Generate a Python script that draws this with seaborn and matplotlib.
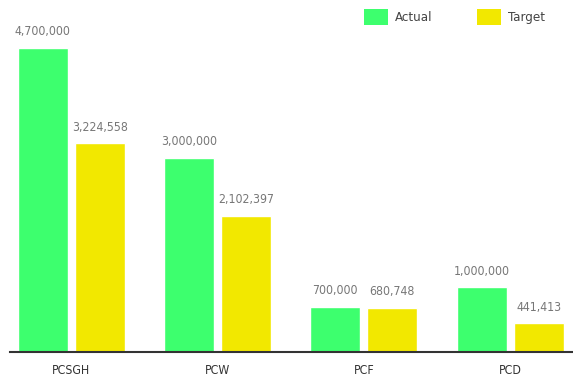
import matplotlib
matplotlib.use("Agg")
import matplotlib.pyplot as plt
import seaborn as sns
import pandas as pd
from matplotlib.patches import Patch

categories = ["PCSGH", "PCW", "PCF", "PCD"]
actual = [4700000, 3000000, 700000, 1000000]
target = [3224558, 2102397, 680748, 441413]
series_names = ["Actual", "Target"]
colors = {"Actual": "#3dff6e", "Target": "#f2e800"}

df = pd.DataFrame({
    "category": categories * 2,
    "series": [series_names[0]] * len(categories) + [series_names[1]] * len(categories),
    "value": actual + target,
})

sns.set_theme(style="white")
plt.rcParams["font.family"] = ["DejaVu Sans"]
plt.rcParams["font.stretch"] = "condensed"

fig = plt.figure(figsize=(5.73, 3.77), dpi=100)
ax = fig.add_axes([10 / 573, 25 / 377, 563 / 573, 352 / 377])

sns.barplot(data=df, x="category", y="value", hue="series", order=categories,
            hue_order=series_names, palette=colors, width=0.78, gap=0.12,
            saturation=1, legend=False, ax=ax)

for container in ax.containers:
    ax.bar_label(container, labels=[f"{v:,.0f}" for v in container.datavalues],
                 padding=7, color="#777777", fontsize=8.8)

ax.set_xlim(-0.42, 3.43)
ax.set_ylim(0, 4700000 * 352 / 304)
ax.set_xlabel("")
ax.set_ylabel("")
ax.set_yticks([])
ax.tick_params(axis="x", length=0, pad=9, labelsize=8.8, labelcolor="#333333")
for side in ["top", "right", "left"]:
    ax.spines[side].set_visible(False)
ax.spines["bottom"].set_color("#333333")
ax.spines["bottom"].set_linewidth(1.5)

handles = [Patch(facecolor=colors[s], edgecolor="none", label=s) for s in series_names]
fig.legend(handles=handles, loc="upper left", bbox_to_anchor=(352 / 573, 1 + 3 / 377),
           ncol=2, frameon=False, fontsize=9.5, handlelength=1.8, handleheight=1.45,
           handletextpad=0.55, columnspacing=3.4, labelcolor="#444444")

fig.savefig("out.png", dpi=100)
